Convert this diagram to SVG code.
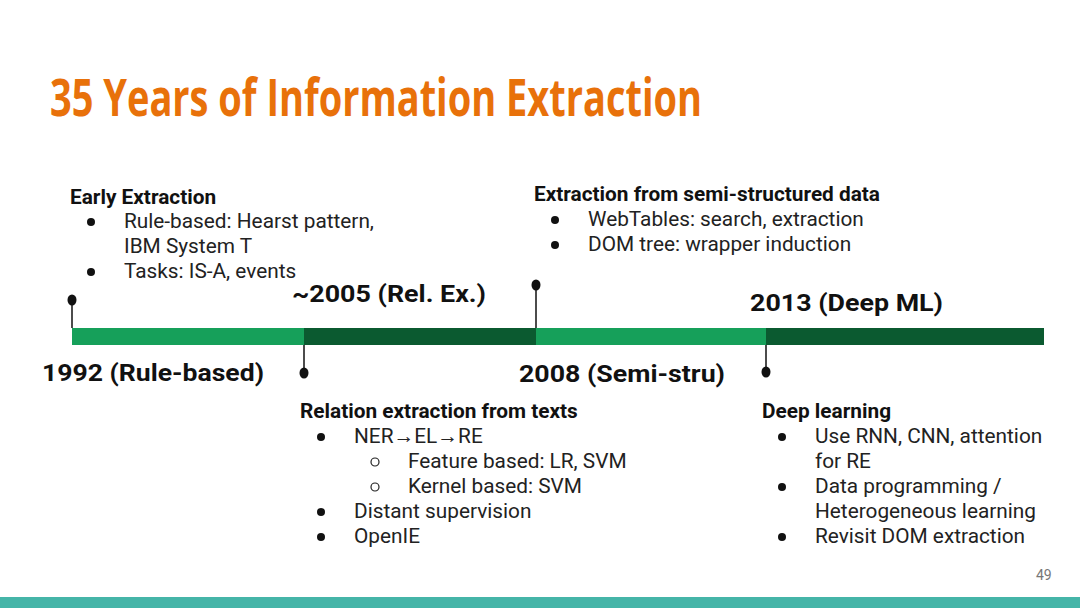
<svg xmlns="http://www.w3.org/2000/svg" width="1080" height="608" viewBox="0 0 1080 608">
<style>
.t{font-family:Roboto,"Liberation Sans",sans-serif;font-size:20.8px;fill:#222}
.h{font-family:Roboto,"Liberation Sans",sans-serif;font-size:20.8px;font-weight:bold;fill:#111}
.y{font-family:Roboto,"Liberation Sans",sans-serif;font-size:24px;font-weight:bold;fill:#111}
.pin{stroke:#111;stroke-width:1.5}
.dot{fill:#111}
.lg{fill:#16a05a}
.dg{fill:#0b5a30}
</style>
<rect width="1080" height="608" fill="#fff"/>
<text x="50" y="116" font-family="'Open Sans','Liberation Sans',sans-serif" font-size="52" font-weight="bold" fill="#e8710a" textLength="652" lengthAdjust="spacingAndGlyphs">35 Years of Information Extraction</text>

<g id="timeline">
<rect class="lg" x="72" y="328" width="232" height="17"/>
<rect class="dg" x="304" y="328" width="232" height="17"/>
<rect class="lg" x="536" y="328" width="230" height="17"/>
<rect class="dg" x="766" y="328" width="278" height="17"/>
</g>

<g id="connectors">
<line class="pin" x1="72" y1="300" x2="72" y2="328"/>
<line class="pin" x1="304" y1="345" x2="304" y2="373"/>
<line class="pin" x1="536" y1="285" x2="536" y2="328"/>
<line class="pin" x1="766" y1="345" x2="766" y2="372"/>
<ellipse class="dot" cx="72" cy="300" rx="4.5" ry="5.5"/>
<ellipse class="dot" cx="304" cy="373" rx="4.5" ry="5.5"/>
<ellipse class="dot" cx="536" cy="285" rx="4.5" ry="5.5"/>
<ellipse class="dot" cx="766" cy="372" rx="4.5" ry="5.5"/>
</g>

<g id="y1992"><text class="y" x="42" y="381" textLength="222" lengthAdjust="spacingAndGlyphs">1992 (Rule-based)</text></g>
<g id="y2005"><text class="y" x="292" y="302" textLength="194" lengthAdjust="spacingAndGlyphs">~2005 (Rel. Ex.)</text></g>
<g id="y2008"><text class="y" x="519" y="382" textLength="206" lengthAdjust="spacingAndGlyphs">2008 (Semi-stru)</text></g>
<g id="y2013"><text class="y" x="750" y="311" textLength="193" lengthAdjust="spacingAndGlyphs">2013 (Deep ML)</text></g>

<g id="early">
<text class="h" x="70" y="204">Early Extraction</text>
<circle class="dot" cx="91" cy="222" r="4"/>
<text class="t" x="124" y="228">Rule-based: Hearst pattern,</text>
<text class="t" x="124" y="253">IBM System T</text>
<circle class="dot" cx="91" cy="272" r="4"/>
<text class="t" x="124" y="278">Tasks: IS-A, events</text>
</g>

<g id="semi">
<text class="h" x="534" y="201">Extraction from semi-structured data</text>
<circle class="dot" cx="555" cy="220" r="4"/>
<text class="t" x="588" y="226">WebTables: search, extraction</text>
<circle class="dot" cx="555" cy="245" r="4"/>
<text class="t" x="588" y="251">DOM tree: wrapper induction</text>
</g>

<g id="relation">
<text class="h" x="300" y="418">Relation extraction from texts</text>
<circle class="dot" cx="321" cy="437" r="4"/>
<text class="t" x="354" y="443">NER→EL→RE</text>
<circle cx="375" cy="462" r="4" fill="none" stroke="#222" stroke-width="1.2"/>
<text class="t" x="408" y="468">Feature based: LR, SVM</text>
<circle cx="375" cy="487" r="4" fill="none" stroke="#222" stroke-width="1.2"/>
<text class="t" x="408" y="493">Kernel based: SVM</text>
<circle class="dot" cx="321" cy="512" r="4"/>
<text class="t" x="354" y="518">Distant supervision</text>
<circle class="dot" cx="321" cy="537" r="4"/>
<text class="t" x="354" y="543">OpenIE</text>
</g>

<g id="deep">
<text class="h" x="762" y="418">Deep learning</text>
<circle class="dot" cx="782" cy="437" r="4"/>
<text class="t" x="815" y="443">Use RNN, CNN, attention</text>
<text class="t" x="815" y="468">for RE</text>
<circle class="dot" cx="782" cy="487" r="4"/>
<text class="t" x="815" y="493">Data programming /</text>
<text class="t" x="815" y="518">Heterogeneous learning</text>
<circle class="dot" cx="782" cy="537" r="4"/>
<text class="t" x="815" y="543">Revisit DOM extraction</text>
</g>

<text x="1036" y="580" font-family="Roboto,'Liberation Sans',sans-serif" font-size="14" fill="#777">49</text>
<rect x="0" y="597" width="1080" height="11" fill="#45b5a8"/>
</svg>
